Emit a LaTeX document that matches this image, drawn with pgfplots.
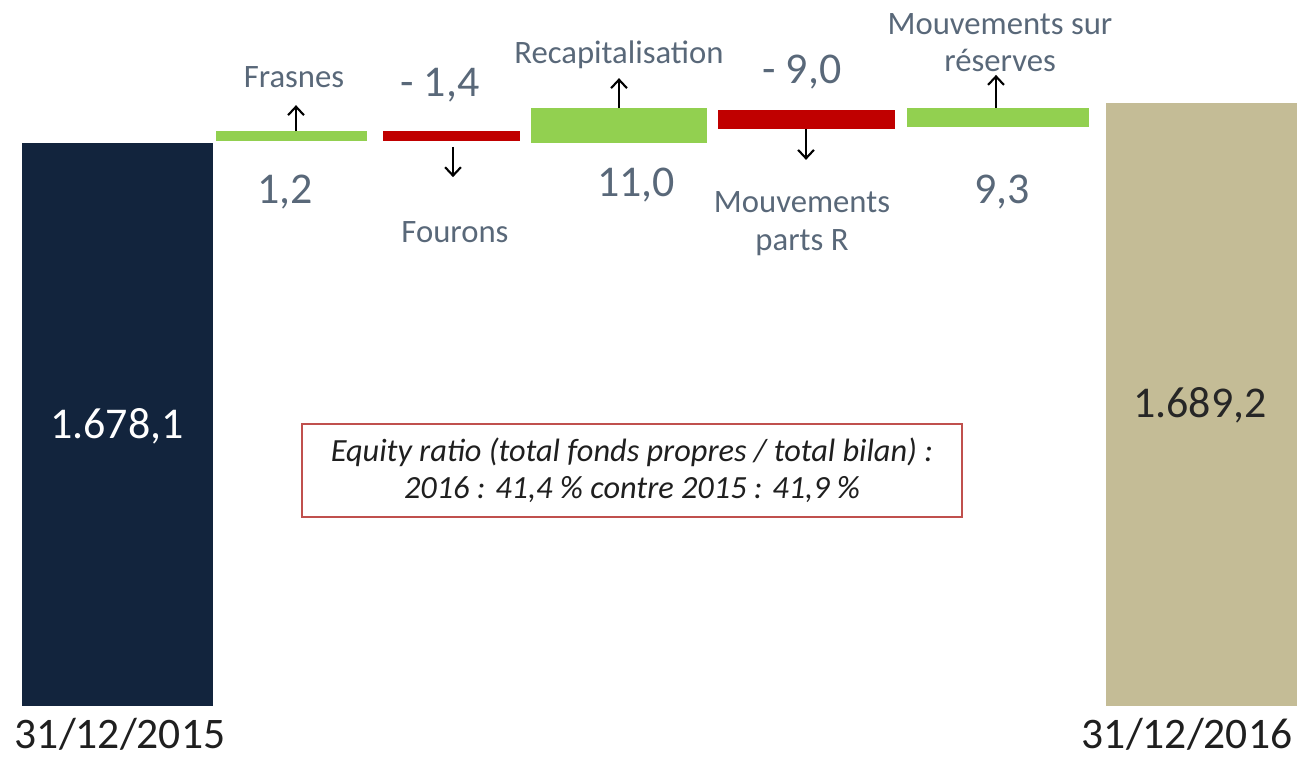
\documentclass[border=0pt]{standalone}
\usepackage{fontspec}
\setmainfont{Carlito}
\usepackage{pgfplots}
\pgfplotsset{compat=1.18}
\usetikzlibrary{arrows.meta}

\definecolor{navy}{RGB}{18,36,61}
\definecolor{plus}{RGB}{146,208,80}
\definecolor{minus}{RGB}{192,0,0}
\definecolor{tan}{RGB}{196,188,150}
\definecolor{lbl}{RGB}{89,104,121}
\definecolor{boxred}{RGB}{192,80,77}

\newcommand{\lab}{\fontsize{9.3}{10.6}\selectfont}
\newcommand{\num}{\fontsize{12.5}{14}\selectfont}

\begin{document}
\begin{tikzpicture}
\begin{axis}[scale only axis, width=12.99cm, height=7.56cm,
  xmin=0, xmax=1299, ymin=1507.81, ymax=1717.81,
  hide axis, clip=false]
% totals (bars start at the broken baseline 1521.7)
\addplot[fill=navy, draw=none] coordinates {(22,1521.7) (213,1521.7) (213,1678.1) (22,1678.1)} --cycle;
\addplot[fill=tan, draw=none] coordinates {(1106,1521.7) (1297,1521.7) (1297,1689.2) (1106,1689.2)} --cycle;
% movements, positions as drawn in the chart
\addplot[fill=plus, draw=none] coordinates {(216,1678.6) (367,1678.6) (367,1681.4) (216,1681.4)} --cycle;
\addplot[fill=minus, draw=none] coordinates {(383,1678.6) (520,1678.6) (520,1681.4) (383,1681.4)} --cycle;
\addplot[fill=plus, draw=none] coordinates {(531,1678.1) (707,1678.1) (707,1687.8) (531,1687.8)} --cycle;
\addplot[fill=minus, draw=none] coordinates {(718,1682.0) (895,1682.0) (895,1687.3) (718,1687.3)} --cycle;
\addplot[fill=plus, draw=none] coordinates {(907,1682.5) (1089,1682.5) (1089,1687.8) (907,1687.8)} --cycle;

\begin{scope}[line width=0.6pt, -{Straight Barb[length=2.4pt,width=4.5pt]}]
\draw (axis cs:296,1681.4) -- (axis cs:296,1688.6);
\draw (axis cs:453,1677.0) -- (axis cs:453,1668.6);
\draw (axis cs:619,1687.8) -- (axis cs:619,1696.1);
\draw (axis cs:806,1682.0) -- (axis cs:806,1673.4);
\draw (axis cs:996,1687.8) -- (axis cs:996,1697.0);
\end{scope}

\begin{scope}[text=lbl, inner sep=0pt, align=center]
\node[font=\lab] at (axis cs:294,1696.4) {Frasnes};
\node[font=\num] at (axis cs:440,1694.2) {- 1,4};
\node[font=\num] at (axis cs:285,1664.5) {1,2};
\node[font=\lab] at (axis cs:455,1653.4) {Fourons};
\node[font=\lab] at (axis cs:619,1702.5) {Recapitalisation};
\node[font=\num] at (axis cs:636,1666.4) {11,0};
\node[font=\num] at (axis cs:802,1697.8) {- 9,0};
\node[font=\lab] at (axis cs:802,1655.7) {Mouvements\\parts R};
\node[font=\lab] at (axis cs:1000,1705.9) {Mouvements sur\\réserves};
\node[font=\num] at (axis cs:1002,1664.5) {9,3};
\end{scope}

\node[font=\num, text=white, inner sep=0pt] at (axis cs:117,1599.5) {1.678,1};
\node[font=\num, text=black!85, inner sep=0pt] at (axis cs:1200,1605.3) {1.689,2};
\node[font=\fontsize{12.4}{14}\selectfont, text=black!88, inner sep=0pt] at (axis cs:120,1513.9) {31/12/2015};
\node[font=\fontsize{12.4}{14}\selectfont, text=black!88, inner sep=0pt] at (axis cs:1187,1513.9) {31/12/2016};

\draw[boxred, line width=0.7pt, fill=white] (axis cs:302,1574.2) rectangle (axis cs:962,1600.0);
\node[font=\fontsize{9.2}{10.5}\selectfont\itshape, text=black!88, align=center, inner sep=0pt] at (axis cs:632,1587.1)
  {Equity ratio (total fonds propres / total bilan) :\\2016 : 41,4 \% contre 2015 : 41,9 \%};
\end{axis}
\pgfresetboundingbox
\path[use as bounding box] (current axis.south west) rectangle (current axis.north east);
\end{tikzpicture}
\end{document}
